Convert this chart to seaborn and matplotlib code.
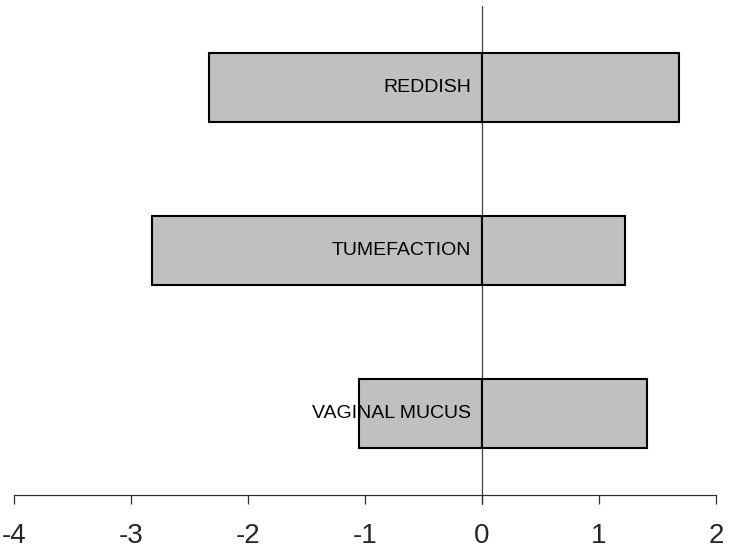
import pandas as pd
import seaborn as sns
import matplotlib.pyplot as plt

# Data
categories = ["REDDISH", "TUMEFACTION", "VAGINAL MUCUS"]
neg_values = [-2.33, -2.82, -1.05]
pos_values = [1.68, 1.22, 1.41]
x_ticks = [-4, -3, -2, -1, 0, 1, 2]

df = pd.DataFrame({"symptom": categories, "neg": neg_values, "pos": pos_values})

sns.set_style("white")
plt.rcParams["font.family"] = ["Liberation Sans", "DejaVu Sans"]

fig = plt.figure(figsize=(7.31, 5.49), dpi=100)
ax = fig.add_axes([0.0192, 0.0984, 0.9603, 0.8906])

bar_kw = dict(orient="h", width=0.42, color="#c0c0c0", edgecolor="black",
              linewidth=1.5, saturation=1, order=categories, ax=ax)
sns.barplot(data=df, x="neg", y="symptom", **bar_kw)
sns.barplot(data=df, x="pos", y="symptom", **bar_kw)

# vertical line at zero
ax.axvline(0, color="#404040", linewidth=0.9, ymin=-0.018, clip_on=False, zorder=0.5)

# labels inside the bars, right-aligned just left of zero
for i, name in enumerate(categories):
    ax.text(-0.09, i, name, ha="right", va="center", fontsize=14, color="black",
            zorder=5)

ax.set_xlim(-4, 2)
ax.set_ylim(2.5, -0.5)
ax.set_xticks(x_ticks)
ax.set_xticklabels([str(t) for t in x_ticks], fontsize=20)
ax.set_yticks([])
ax.set_xlabel("")
ax.set_ylabel("")

for side in ["top", "right", "left"]:
    ax.spines[side].set_visible(False)
ax.spines["bottom"].set_color("#303030")
ax.spines["bottom"].set_linewidth(0.9)
ax.tick_params(axis="x", direction="out", length=6.5, width=0.9, color="#303030",
               bottom=True, pad=14)

plt.savefig("out.png", dpi=100)
